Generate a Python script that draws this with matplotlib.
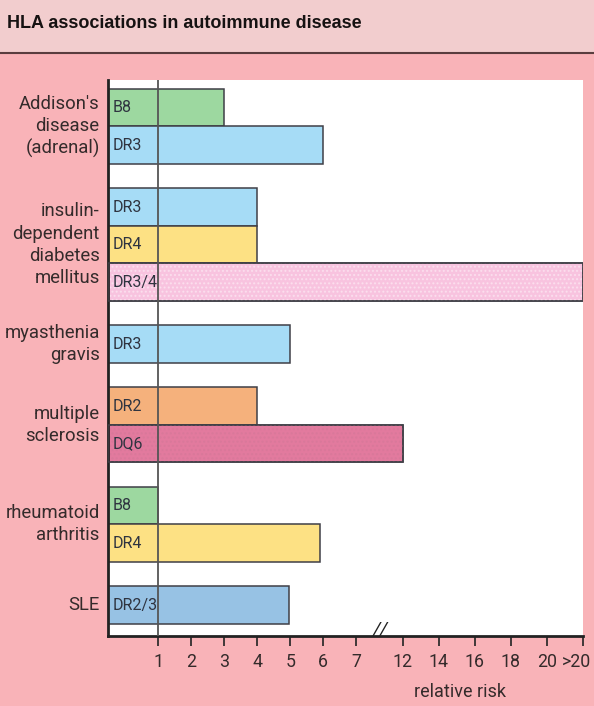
import numpy as np
import matplotlib
matplotlib.use('Agg')
import matplotlib.pyplot as plt
from matplotlib.patches import Rectangle
from matplotlib.lines import Line2D

plt.rcParams['font.family'] = ['Roboto', 'DejaVu Sans']

BG = "#f9b3b8"
TITLE_BG = "#f2cdce"
TEXT = "#342b2b"
EDGE = "#3f3f46"

# ---- data ----
diseases = ["Addison's\ndisease\n(adrenal)", "insulin-\ndependent\ndiabetes\nmellitus",
            "myasthenia\ngravis", "multiple\nsclerosis", "rheumatoid\narthritis", "SLE"]
alleles = [["B8", "DR3"], ["DR3", "DR4", "DR3/4"], ["DR3"], ["DR2", "DQ6"], ["B8", "DR4"], ["DR2/3"]]
risks = [[3, 6], [4, 4, 22], [5], [4, 12], [1, 5.9], [4.95]]
tick_vals = [1, 2, 3, 4, 5, 6, 7, 12, 14, 16, 18, 20, 22]
tick_labels = ['1', '2', '3', '4', '5', '6', '7', '12', '14', '16', '18', '20', '>20']

allele_colors = {"B8": "#9dd8a0", "DR3": "#a6dcf6", "DR4": "#fde184", "DR3/4": "#f8c3df",
                 "DR2": "#f5b17c", "DQ6": "#e27a9e", "DR2/3": "#97c2e4"}

# broken axis: linear 0-7, compressed 7-12, half scale above 12
_v = [-2, 0, 7, 12, 22, 30]
_p = [-65.9, 0, 230.65, 277.3, 457.3, 601.3]


def fwd(v):
    return np.interp(v, _v, _p)


def inv(p):
    return np.interp(p, _p, _v)


X0 = -0.52

fig = plt.figure(figsize=(5.94, 7.06), dpi=100, facecolor=BG)

# title band
fig.patches.append(Rectangle((0, 0.9254), 1, 0.0746, transform=fig.transFigure,
                             facecolor=TITLE_BG, edgecolor='none', zorder=0))
fig.lines.append(Line2D([0, 1], [0.9254, 0.9254], transform=fig.transFigure,
                        color="#5a3d3f", lw=1.5))
fig.text(0.012, 0.967, "HLA associations in autoimmune disease", fontsize=13,
         fontweight='bold', family='Liberation Sans', color="#161212", va='center')

ax = fig.add_axes([0.1823, 0.0992, 0.7992, 0.7875])
ax.set_facecolor('white')
ax.set_xscale('function', functions=(fwd, inv))

gap = 0.653
y = 0.24
for dis, als, rs in zip(diseases, alleles, risks):
    y0 = y
    for al, r in zip(als, rs):
        ax.barh(y + 0.5, r - X0, height=1, left=X0, color=allele_colors[al],
                edgecolor=EDGE, linewidth=1.1, zorder=2)
        if al in ("DR3/4", "DQ6"):
            ax.barh(y + 0.5, r - X0, height=1, left=X0, color='none', hatch='....',
                    edgecolor='#ffffff66' if al == "DR3/4" else '#d9789a', linewidth=0, zorder=2.5)
            ax.barh(y + 0.5, r - X0, height=1, left=X0, color='none',
                    edgecolor=EDGE, linewidth=1.1, zorder=2.6)
        ax.annotate(al, xy=(0, y + 0.5), xycoords=('axes fraction', 'data'),
                    xytext=(3, 0), textcoords='offset points', va='center', ha='left',
                    fontsize=11.5, color="#2f3440", zorder=4)
        y += 1
    ax.text(-0.018, (y0 + y) / 2, dis, transform=ax.get_yaxis_transform(),
            ha='right', va='center', fontsize=13.3, color=TEXT, linespacing=1.3,
            multialignment='right')
    y += gap

ax.set_ylim(14.83, 0)
ax.set_xlim(X0, 22)
ax.axvline(1, color="#555555", lw=1.3, zorder=3)

ax.set_yticks([])
ax.set_xticks(tick_vals)
# last label drawn separately so it stays inside the figure
ax.set_xticklabels(tick_labels[:-1] + [''], fontsize=12.8, color=TEXT)
ax.annotate(tick_labels[-1], xy=(tick_vals[-1], 0), xycoords=('data', 'axes fraction'),
            xytext=(-4.5, -12), textcoords='offset points', ha='center', va='top',
            fontsize=12.8, color=TEXT, annotation_clip=False)
ax.tick_params(axis='x', length=7, width=1.2, color="#222222", pad=5)
for s in ['top', 'right']:
    ax.spines[s].set_visible(False)
for s in ['left', 'bottom']:
    ax.spines[s].set_color("#222222")
    ax.spines[s].set_linewidth(2)

ax.text(9.56, 0.012, "//", transform=ax.get_xaxis_transform(), ha='center', va='center',
        fontsize=14, style='italic', color="#222222", clip_on=False, zorder=5)

ax.set_xlabel("relative risk", fontsize=13, color=TEXT)
ax.xaxis.set_label_coords(0.74, -0.085)

fig.savefig("out.png", dpi=100, facecolor=BG)
